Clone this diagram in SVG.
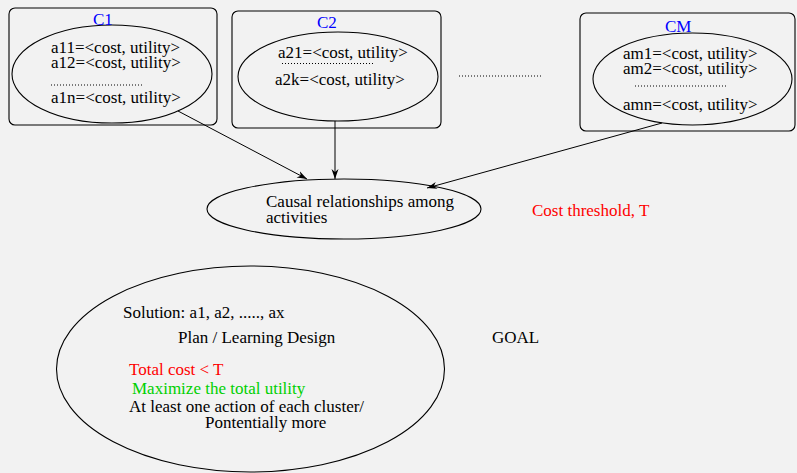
<svg xmlns="http://www.w3.org/2000/svg" width="797" height="473" viewBox="0 0 797 473">
<style>
text{font-family:"Liberation Serif","Times New Roman",serif;font-size:17px;fill:#000}
.box{fill:none;stroke:#000;stroke-width:1.1}
.ell{fill:none;stroke:#000;stroke-width:1.1}
.dot{stroke:#000;stroke-width:1;stroke-dasharray:1 2;fill:none}
.blue{fill:#0000ff}
.red{fill:#ff0000}
.green{fill:#00d000}
.conn{stroke:#000;stroke-width:1;fill:none}
</style>
<defs>
<marker id="arr" viewBox="0 0 10 8" refX="10" refY="4" markerWidth="10" markerHeight="8" markerUnits="userSpaceOnUse" orient="auto">
<path d="M0,0.5 L10,4 L0,7.5 L3,4 Z" fill="#000"/>
</marker>
</defs>
<rect width="797" height="473" fill="#f2f2f2"/>
<g id="c1">
<rect class="box" x="9" y="8" width="208" height="117" rx="6"/>
<ellipse class="ell" cx="112" cy="74" rx="100" ry="49"/>
<text class="blue" x="93" y="25">C1</text>
<text x="51" y="53">a11=&lt;cost, utility&gt;</text>
<text x="51" y="68">a12=&lt;cost, utility&gt;</text>
<line class="dot" x1="51" y1="85" x2="143" y2="85"/>
<text x="51" y="103">a1n=&lt;cost, utility&gt;</text>
</g>
<g id="c2">
<rect class="box" x="232" y="11" width="209" height="117" rx="6"/>
<ellipse class="ell" cx="338" cy="76.5" rx="100" ry="44.5"/>
<text class="blue" x="317" y="28">C2</text>
<text x="278" y="58">a21=&lt;cost, utility&gt;</text>
<line class="dot" x1="282" y1="63.5" x2="373" y2="63.5"/>
<text x="275" y="85">a2k=&lt;cost, utility&gt;</text>
</g>
<g id="between">
<line class="dot" x1="459" y1="76" x2="542" y2="76"/>
</g>
<g id="cm">
<rect class="box" x="580" y="13" width="215" height="118" rx="6"/>
<ellipse class="ell" cx="692.5" cy="79" rx="99.5" ry="46"/>
<text class="blue" x="665" y="32">CM</text>
<text x="623" y="59">am1=&lt;cost, utility&gt;</text>
<text x="623" y="74">am2=&lt;cost, utility&gt;</text>
<line class="dot" x1="635" y1="86" x2="727" y2="86"/>
<text x="623" y="110">amn=&lt;cost, utility&gt;</text>
</g>
<g id="causal">
<ellipse class="ell" cx="344" cy="209" rx="137" ry="30"/>
<text x="266" y="207">Causal relationships among</text>
<text x="266" y="223">activities</text>
</g>
<g id="threshold">
<text class="red" x="532" y="216">Cost threshold, T</text>
</g>
<g id="goal-ellipse">
<ellipse class="ell" cx="250.5" cy="369" rx="194" ry="103"/>
<text x="123" y="318">Solution: a1, a2, ....., ax</text>
<text x="178" y="343">Plan / Learning Design</text>
<text class="red" x="129" y="375">Total cost &lt; T</text>
<text class="green" x="132" y="394">Maximize the total utility</text>
<text x="129" y="412">At least one action of each cluster/</text>
<text x="205" y="428">Pontentially more</text>
</g>
<g id="goal">
<text x="492" y="343">GOAL</text>
</g>
<g id="connectors">
<line class="conn" x1="178" y1="111" x2="307" y2="179" marker-end="url(#arr)"/>
<line class="conn" x1="335" y1="121" x2="335" y2="179" marker-end="url(#arr)"/>
<line class="conn" x1="662" y1="123" x2="427" y2="188" marker-end="url(#arr)"/>
</g>
</svg>
